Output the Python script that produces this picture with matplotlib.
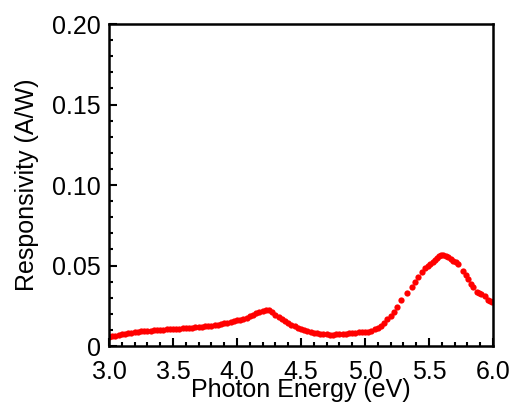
import matplotlib
matplotlib.use("Agg")
import matplotlib.pyplot as plt
from matplotlib.ticker import MultipleLocator

plt.rcParams['font.family'] = ['Liberation Sans', 'DejaVu Sans']

# photon energy (eV) and responsivity (A/W)
energy = [
    3.000, 3.025, 3.050, 3.075, 3.100, 3.125, 3.150, 3.175, 3.200, 3.225,
    3.250, 3.275, 3.300, 3.325, 3.350, 3.375, 3.400, 3.425, 3.450, 3.475,
    3.500, 3.525, 3.550, 3.575, 3.600, 3.625, 3.650, 3.675, 3.700, 3.725,
    3.750, 3.775, 3.800, 3.825, 3.850, 3.875, 3.900, 3.925, 3.950, 3.975,
    4.000, 4.025, 4.050, 4.075, 4.100, 4.125, 4.150, 4.175, 4.200, 4.225,
    4.250, 4.275, 4.300, 4.325, 4.350, 4.375, 4.400, 4.425, 4.450, 4.475,
    4.500, 4.525, 4.550, 4.575, 4.600, 4.625, 4.650, 4.675, 4.700, 4.725,
    4.750, 4.775, 4.800, 4.825, 4.850, 4.875, 4.900, 4.925, 4.950, 4.975,
    5.000, 5.025, 5.050, 5.075, 5.100, 5.125, 5.150, 5.175, 5.200, 5.225,
    5.250, 5.285, 5.326, 5.365, 5.390, 5.417, 5.443, 5.470, 5.490, 5.508,
    5.528, 5.547, 5.565, 5.580, 5.595, 5.610, 5.630, 5.650, 5.670, 5.690,
    5.710, 5.730, 5.763, 5.789, 5.807, 5.826, 5.846, 5.873, 5.890, 5.910,
    5.937, 5.960, 5.975, 5.990,
]
responsivity = [
    .0057, .0061, .0065, .0069, .0073, .0077, .0080, .0083, .0086, .0088,
    .0091, .0093, .0094, .0096, .0098, .0099, .0101, .0102, .0104, .0105,
    .0106, .0107, .0108, .0109, .0110, .0112, .0114, .0116, .0118, .0120,
    .0122, .0124, .0127, .0130, .0133, .0136, .0140, .0145, .0150, .0155,
    .0159, .0162, .0168, .0176, .0185, .0194, .0203, .0211, .0218, .0223,
    .0222, .0210, .0193, .0179, .0166, .0154, .0142, .0131, .0122, .0115,
    .0108, .0101, .0094, .0088, .0083, .0079, .0076, .0073, .0072, .0071,
    .0071, .0072, .0073, .0074, .0076, .0078, .0080, .0082, .0084, .0085,
    .0087, .0090, .0095, .0103, .0114, .0127, .0144, .0165, .0186, .0212,
    .0243, .0286, .0327, .0368, .0400, .0430, .0458, .0482, .0496, .0509,
    .0522, .0534, .0548, .0561, .0565, .0565, .0559, .0551, .0541, .0530,
    .0520, .0510, .0468, .0441, .0414, .0385, .0368, .0337, .0330, .0323,
    .0313, .0286, .0280, .0275,
]

x_ticks = [3.0, 3.5, 4.0, 4.5, 5.0, 5.5, 6.0]
y_ticks = [0, 0.05, 0.10, 0.15, 0.20]
y_tick_labels = ["0", "0.05", "0.10", "0.15", "0.20"]

fig = plt.figure(figsize=(5.13, 4.03), dpi=100)
ax = fig.add_axes([0.2125, 0.1414, 0.7485, 0.799])

ax.plot(energy, responsivity, linestyle="none", marker="o", markersize=4.5,
        color="#ff0000", markeredgewidth=0)

ax.set_xlim(3.0, 6.0)
ax.set_ylim(0, 0.20)
ax.set_xticks(x_ticks)
ax.set_xticklabels([f"{v:.1f}" for v in x_ticks])
ax.set_yticks(y_ticks)
ax.set_yticklabels(y_tick_labels)
ax.xaxis.set_minor_locator(MultipleLocator(0.1))
ax.yaxis.set_minor_locator(MultipleLocator(0.01))

ax.tick_params(which="both", direction="in", top=False, right=False,
               width=1.5, labelsize=18, color="black")
ax.tick_params(axis="x", which="both", pad=10)
ax.tick_params(axis="y", which="both", pad=6)
ax.tick_params(which="major", length=5.5)
ax.tick_params(which="minor", length=3)
for s in ax.spines.values():
    s.set_linewidth(1.8)

ax.set_xlabel("Photon Energy (eV)", fontsize=18, labelpad=-4)
ax.set_ylabel("Responsivity (A/W)", fontsize=18, labelpad=9)

fig.savefig("out.png", dpi=100)
